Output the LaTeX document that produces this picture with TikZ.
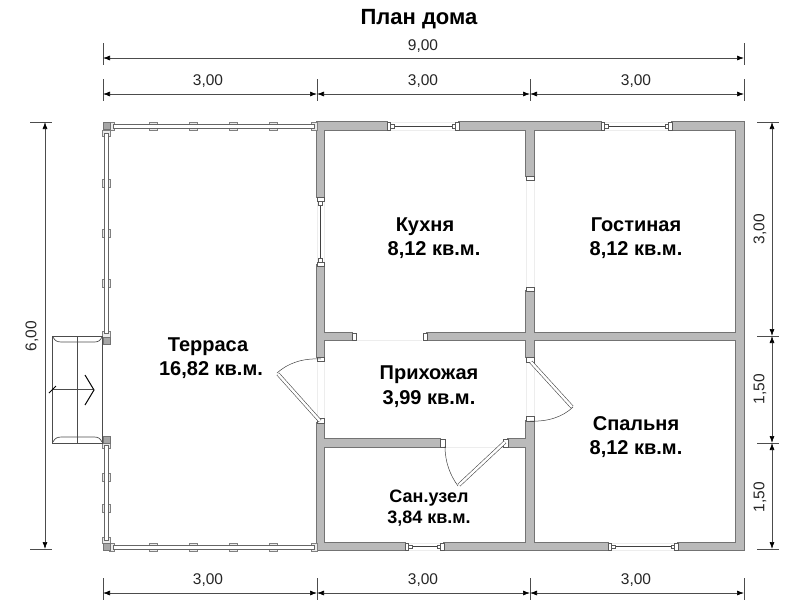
\documentclass[tikz,border=0pt]{standalone}
\usepackage{fontspec}
\setmainfont{Liberation Sans}
\usetikzlibrary{arrows.meta}
\tikzset{
  wallline/.style={draw=black!55, line width=1.3pt},
  wallfill/.style={fill=black!27},
  wallcap/.style={draw=black!65, fill=white, line width=0.7pt},
  thinwin/.style={draw=black!75, line width=0.7pt},
  faint/.style={draw=black!7, line width=0.5pt},
  leaf/.style={draw=black!70, double=white, double distance=2.4pt, line width=0.6pt},
  swing/.style={draw=black!75, line width=0.5pt},
  rail/.style={draw=black!60, fill=white, line width=0.9pt},
  post/.style={draw=black!50, fill=black!8, line width=0.7pt},
  dimline/.style={draw=black!70, line width=0.7pt, {Latex[length=7pt,width=5pt,black]}-{Latex[length=7pt,width=5pt,black]}},
  tickline/.style={draw=black!70, line width=0.7pt},
  dimlabel/.style={font=\fontsize{15.5}{17}\selectfont, text=black!85, inner sep=0pt},
  room/.style={font=\fontsize{20}{22}\bfseries\selectfont, inner sep=0pt, anchor=base},
  titletext/.style={font=\fontsize{22}{24}\bfseries\selectfont, inner sep=0pt, anchor=base},
  smallroom/.style={font=\fontsize{18}{20}\bfseries\selectfont, inner sep=0pt, anchor=base}
}
\begin{document}
\begin{tikzpicture}[x=1pt,y=-1pt]
\useasboundingbox (0,0) rectangle (800,600);
% faint window and door sills
\foreach \xa/\ya/\xb/\yb in {391/122/455/122,391/130/455/130,604/122/668/122,604/130/668/130,
  408/543/440/543,408/550/440/550,611/543/674/543,611/550/674/550,
  317/201/317/262,324/201/324/262,526/180/526/291,534/180/534/291,
  356/340/422/340,317/360/317/418,324/360/324/418,
  526/362/526/421,534/362/534/421,445/447/503/447}
  \draw[faint] (\xa,\ya) -- (\xb,\yb);
% walls, outline first and then the fill over it
\foreach \xa/\ya/\xb/\yb in {317/122/387/130,459/122/601/130,672/122/744/130,736/122/744/550,
  427/333/744/340,317/333/352/340,526/122/534/176,526/291/534/357,526/421/534/550,
  317/122/324/197,317/265/324/357,317/423/324/550,317/439/440/447,508/439/534/447,
  317/543/405/550,444/543/608/550,678/543/744/550}
  \draw[wallline] (\xa,\ya) rectangle (\xb,\yb);
\foreach \xa/\ya/\xb/\yb in {317/122/387/130,459/122/601/130,672/122/744/130,736/122/744/550,
  427/333/744/340,317/333/352/340,526/122/534/176,526/291/534/357,526/421/534/550,
  317/122/324/197,317/265/324/357,317/423/324/550,317/439/440/447,508/439/534/447,
  317/543/405/550,444/543/608/550,678/543/744/550}
  \fill[wallfill] (\xa,\ya) rectangle (\xb,\yb);
% horizontal windows
\foreach \xa/\xb/\ya/\yb in {387/459/122/130,601/672/122/130,405/444/543/550,608/678/543/550}{
  \draw[thinwin] (\xa+7,\ya/2+\yb/2) -- (\xb-7,\ya/2+\yb/2);
  \draw[wallcap] (\xa,\ya) rectangle (\xa+3.5,\yb);
  \draw[wallcap] (\xb-3.5,\ya) rectangle (\xb,\yb);
  \draw[wallcap] (\xa+3.5,\ya+2) rectangle (\xa+7,\yb-2);
  \draw[wallcap] (\xb-7,\ya+2) rectangle (\xb-3.5,\yb-2);
}
% vertical window of the kitchen
\draw[thinwin] (320.5,205) -- (320.5,262);
\draw[wallcap] (317,197) rectangle (324,201);
\draw[wallcap] (318.5,201) rectangle (322.5,205);
\draw[wallcap] (318.5,258) rectangle (322.5,262);
\draw[wallcap] (317,262) rectangle (324,266);
% openings ends
\foreach \xa/\ya/\xb/\yb in {352/333/356/340,423/333/427/340,526/176/534/180,526/287/534/291,
  317/357/324/361,317/418/324/423,526/357/534/362,526/416/534/421,440/439/445/447,503/439/508/447}
  \draw[wallcap] (\xa,\ya) rectangle (\xb,\yb);
% doors
\draw[leaf] (320,421) -- (278,374);
\draw[swing] (277,373) .. controls (288,363) and (303,358) .. (321,359);
\draw[leaf] (531,362) -- (572,407);
\draw[swing] (573,407) .. controls (563,417) and (547,422) .. (530,421);
\draw[leaf] (505,442) -- (459,485);
\draw[swing] (458,486) .. controls (450,475) and (445,462) .. (445,446);
% terrace rails
\foreach \yy in {122,543}{
  \foreach \xx in {149,189,229,269}
    \draw[post] (\xx,\yy) rectangle (\xx+8,\yy+8);
  \draw[post] (109,\yy) rectangle (114,\yy+8);
  \draw[post] (311,\yy) rectangle (317,\yy+8);
  \draw[rail] (113,\yy+2) rectangle (314,\yy+6);
}
\foreach \yy in {179,229,279,473,504}
  \draw[post] (102,\yy) rectangle (110,\yy+8);
\draw[post] (102,130) rectangle (110,136);
\draw[post] (102,331) rectangle (110,337);
\draw[post] (102,443) rectangle (110,448);
\draw[post] (102,537) rectangle (110,543);
\draw[rail] (104,133) rectangle (108,333);
\draw[rail] (104,445) rectangle (108,540);
% corner posts
\foreach \yy in {122,337,436,543}
  \draw[wallline, fill=black!35, line width=0.7pt] (103,\yy) rectangle (110,\yy+7);
% steps
\draw[draw=black!70, line width=0.7pt] (52,336) rectangle (102,443);
\draw[draw=black!70, line width=0.7pt] (77,336) -- (77,443);
\draw[draw=black!70, line width=0.7pt] (53,337) .. controls (55,341) and (57,342) .. (62,342) -- (94,342) .. controls (98,342) and (100,341) .. (102,337);
\draw[draw=black!70, line width=0.7pt] (53,442) .. controls (55,438) and (57,437) .. (62,437) -- (94,437) .. controls (98,437) and (100,438) .. (102,442);
\draw[draw=black!70, line width=0.7pt] (53,389) -- (93,389);
\draw[line width=1pt] (49,393) -- (56,386);
\draw[line width=1pt] (85,375) -- (94,390) -- (85,405);
% dimensions
\foreach \xx in {103,744}
  \draw[tickline] (\xx,43) -- (\xx,65);
\foreach \xx in {103,317,530,744}{
  \draw[tickline] (\xx,79) -- (\xx,101);
  \draw[tickline] (\xx,578) -- (\xx,600);
}
\draw[dimline] (103,58) -- (744,58);
\node[dimlabel] (top9) at (423,46) {9,00};
\foreach \xa/\xb/\xc/\i in {103/317/208/1,317/530/423/2,530/744/636/3}{
  \draw[dimline] (\xa,94) -- (\xb,94);
  \draw[dimline] (\xa,593) -- (\xb,593);
  \node[dimlabel] (top\i) at (\xc,81) {3,00};
  \node[dimlabel] (bot\i) at (\xc,580) {3,00};
}
\foreach \yy in {122,549}
  \draw[tickline] (30,\yy) -- (52,\yy);
\draw[dimline] (45,122) -- (45,549);
\node[dimlabel, rotate=90] (left6) at (32,336) {6,00};
\foreach \yy in {122,336,443,549}
  \draw[tickline] (757,\yy) -- (779,\yy);
\foreach \ya/\yb in {122/336,336/443,443/549}
  \draw[dimline] (772,\ya) -- (772,\yb);
\node[dimlabel, rotate=90] (right3) at (760,229) {3,00};
\node[dimlabel, rotate=90] (right15a) at (760,389) {1,50};
\node[dimlabel, rotate=90] (right15b) at (760,497) {1,50};
% texts
\node[titletext] (title) at (419,24) {План дома};
\node[room] (kitchen) at (425,231) {Кухня};
\node[room] (kitchenarea) at (434,255) {8,12 кв.м.};
\node[room] (living) at (636,231) {Гостиная};
\node[room] (livingarea) at (636,255) {8,12 кв.м.};
\node[room] (terrace) at (208,351) {Терраса};
\node[room] (terracearea) at (211,375) {16,82 кв.м.};
\node[room] (hall) at (429,379) {Прихожая};
\node[room] (hallarea) at (429,404) {3,99 кв.м.};
\node[room] (bedroom) at (636,430) {Спальня};
\node[room] (bedroomarea) at (636,454) {8,12 кв.м.};
\node[smallroom] (bath) at (429,502) {Сан.узел};
\node[smallroom] (batharea) at (429,523) {3,84 кв.м.};
\end{tikzpicture}
\end{document}
